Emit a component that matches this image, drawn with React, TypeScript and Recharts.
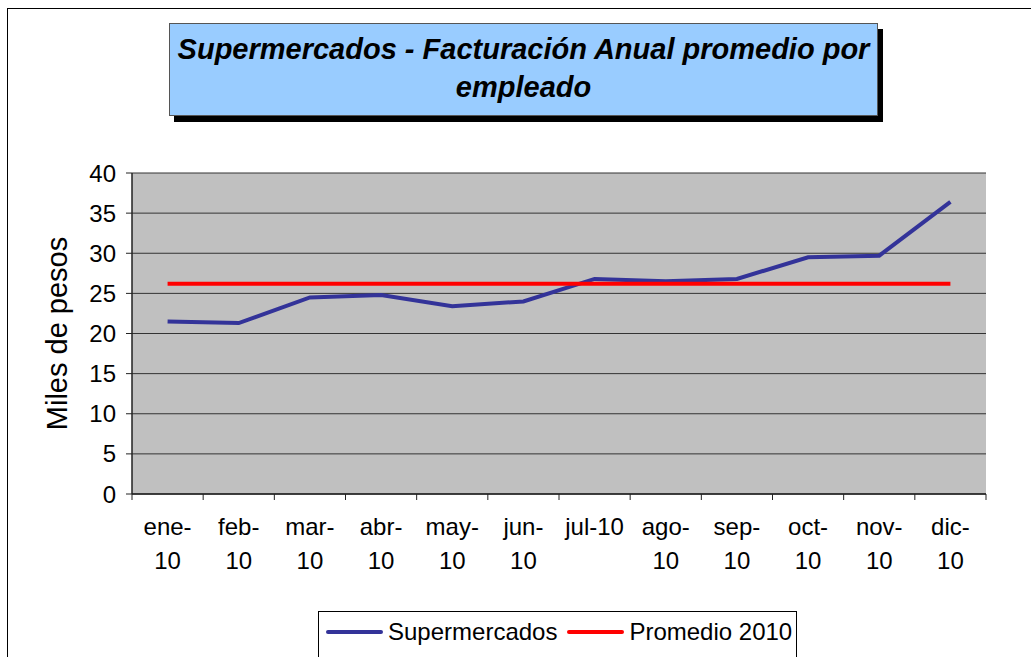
import React from 'react';
import {
  LineChart,
  Line,
  XAxis,
  YAxis,
  CartesianGrid,
  Legend,
} from 'recharts';

const categories = [
  'ene-10', 'feb-10', 'mar-10', 'abr-10', 'may-10', 'jun-10',
  'jul-10', 'ago-10', 'sep-10', 'oct-10', 'nov-10', 'dic-10',
];

const tickLabelLines = [
  ['ene-', '10'], ['feb-', '10'], ['mar-', '10'], ['abr-', '10'],
  ['may-', '10'], ['jun-', '10'], ['jul-10'], ['ago-', '10'],
  ['sep-', '10'], ['oct-', '10'], ['nov-', '10'], ['dic-', '10'],
];

const seriesNames = ['Supermercados', 'Promedio 2010'];

const supermercados = [21.5, 21.3, 24.5, 24.8, 23.4, 24.0, 26.8, 26.5, 26.8, 29.5, 29.7, 36.4];
const promedio2010 = [26.2, 26.2, 26.2, 26.2, 26.2, 26.2, 26.2, 26.2, 26.2, 26.2, 26.2, 26.2];

const yTicks = [0, 5, 10, 15, 20, 25, 30, 35, 40];

const data = categories.map((c, i) => ({
  mes: c,
  [seriesNames[0]]: supermercados[i],
  [seriesNames[1]]: promedio2010[i],
}));

const FONT = '"Liberation Sans", Arial, sans-serif';

const XTick = (props: any) => {
  const { x, y, payload } = props;
  const idx = payload.index;
  const half = payload.offset ?? 0;
  const lines = tickLabelLines[idx] || [String(payload.value)];
  const axisY = y - 6;
  return (
    <g>
      <line x1={x - half} x2={x - half} y1={axisY} y2={axisY + 6} stroke="#222" strokeWidth={1} />
      {idx === categories.length - 1 && (
        <line x1={x + half} x2={x + half} y1={axisY} y2={axisY + 6} stroke="#222" strokeWidth={1} />
      )}
      {lines.map((t, i) => (
        <text
          key={i}
          x={x}
          y={y + 35 + i * 34}
          textAnchor="middle"
          fontSize={24}
          fontFamily={FONT}
          fill="#000"
        >
          {t}
        </text>
      ))}
    </g>
  );
};

const renderLegend = (props: any) => {
  const payload = [...(props.payload || [])].sort(
    (a: any, b: any) => seriesNames.indexOf(a.value) - seriesNames.indexOf(b.value)
  );
  return (
    <div
      style={{
        display: 'flex',
        alignItems: 'center',
        paddingTop: 6,
        paddingLeft: 7,
        fontFamily: FONT,
        fontSize: 24,
        lineHeight: '28px',
        color: '#000',
        whiteSpace: 'nowrap',
      }}
    >
      {payload.map((p: any, i: number) => (
        <div
          key={i}
          style={{ display: 'flex', alignItems: 'center', marginRight: 10, flexShrink: 0, whiteSpace: 'nowrap' }}
        >
          <svg width={57} height={8} style={{ marginRight: 5, flexShrink: 0 }}>
            <line x1={2} x2={55} y1={4} y2={4} stroke={p.color} strokeWidth={4} strokeLinecap="round" />
          </svg>
          <span style={{ whiteSpace: 'nowrap' }}>{p.value}</span>
        </div>
      ))}
    </div>
  );
};

const YLabel = (props: any) => {
  const vb = props.viewBox || { x: 72, y: 173, width: 60, height: 321 };
  const cx = vb.x - 15;
  const cy = vb.y + vb.height / 2;
  return (
    <text
      x={cx}
      y={cy}
      transform={`rotate(-90, ${cx}, ${cy})`}
      textAnchor="middle"
      dominantBaseline="central"
      fontSize={29}
      fontFamily={FONT}
      fill="#000"
    >
      Miles de pesos
    </text>
  );
};

export default function App() {
  return (
    <div
      style={{
        position: 'absolute',
        left: 0,
        top: 0,
        width: 1031,
        height: 657,
        overflow: 'hidden',
        background: '#fff',
        fontFamily: FONT,
      }}
    >
      <div
        style={{
          position: 'absolute',
          left: 7,
          top: 8,
          width: 1100,
          height: 700,
          border: '1px solid #000',
        }}
      />
      <div
        style={{
          position: 'absolute',
          left: 169,
          top: 23,
          width: 709,
          height: 93,
          background: '#99CCFF',
          border: '1px solid #555',
          boxShadow: '5px 6px 0 #000',
          textAlign: 'center',
          fontWeight: 'bold',
          fontStyle: 'italic',
          fontSize: 29,
          lineHeight: '38px',
          paddingTop: 6,
          boxSizing: 'border-box',
          color: '#000',
          zIndex: 2,
          whiteSpace: 'nowrap',
        }}
      >
        Supermercados - Facturación Anual promedio por
        <br />
        empleado
      </div>
      <div style={{ position: 'absolute', left: 0, top: 0 }}>
        <LineChart
          width={1031}
          height={657}
          data={data}
          margin={{ top: 173, right: 45, bottom: 63, left: 72 }}
        >
          <CartesianGrid
            vertical={false}
            horizontal={true}
            fill="#C0C0C0"
            fillOpacity={1}
            stroke="#333"
            strokeWidth={1}
          />
          <XAxis
            xAxisId="top"
            orientation="top"
            dataKey="mes"
            scale="band"
            height={0}
            tick={false}
            tickLine={false}
            axisLine={{ stroke: '#808080', strokeWidth: 2 }}
          />
          <YAxis
            yAxisId="right"
            orientation="right"
            width={0}
            domain={[0, 40]}
            tick={false}
            tickLine={false}
            axisLine={{ stroke: '#808080', strokeWidth: 2 }}
          />
          <XAxis
            dataKey="mes"
            scale="band"
            height={100}
            interval={0}
            tickSize={6}
            tickMargin={0}
            tickLine={false}
            axisLine={{ stroke: '#222', strokeWidth: 1.5 }}
            tick={<XTick />}
          />
          <YAxis
            width={60}
            domain={[0, 40]}
            ticks={yTicks}
            interval={0}
            tickSize={6}
            tickMargin={10}
            tickLine={{ stroke: '#222' }}
            axisLine={{ stroke: '#222', strokeWidth: 1.5 }}
            tick={{ fontSize: 24, fontFamily: FONT, fill: '#000' }}
            label={<YLabel />}
          />
          <Line
            type="linear"
            dataKey={seriesNames[0]}
            stroke="#333399"
            strokeWidth={4}
            dot={false}
            activeDot={false}
            isAnimationActive={false}
          />
          <Line
            type="linear"
            dataKey={seriesNames[1]}
            stroke="#FF0000"
            strokeWidth={4}
            dot={false}
            activeDot={false}
            isAnimationActive={false}
          />
          <Legend
            layout="horizontal"
            verticalAlign="middle"
            align="center"
            content={renderLegend}
            wrapperStyle={{
              top: 611,
              left: 318,
              width: 479,
              height: 60,
              border: '1px solid #000',
              background: '#fff',
              boxSizing: 'border-box',
              overflow: 'visible',
            }}
          />
        </LineChart>
      </div>
    </div>
  );
}
